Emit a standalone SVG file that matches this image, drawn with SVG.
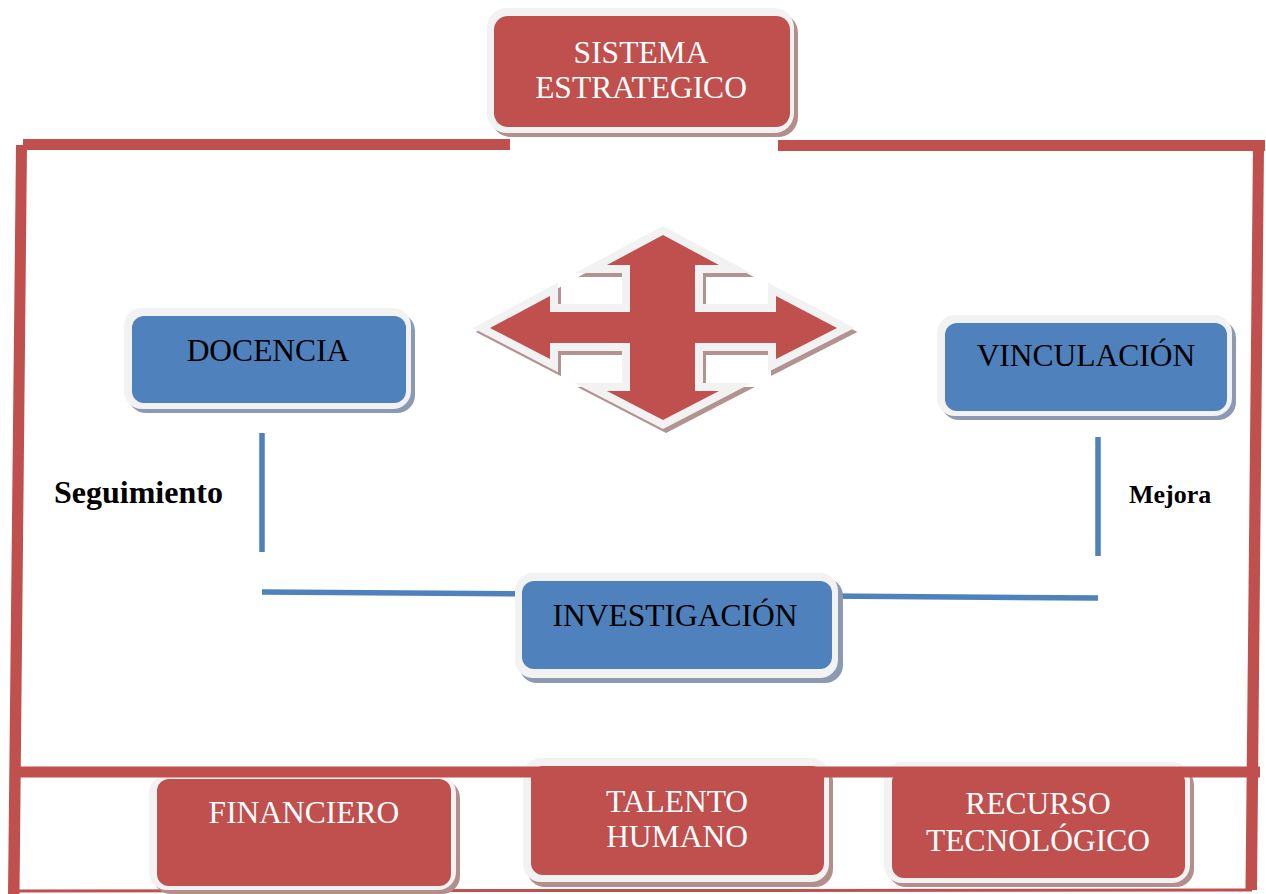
<svg xmlns="http://www.w3.org/2000/svg" width="1266" height="894" viewBox="0 0 1266 894">
<style>
.txt{font-family:"Liberation Serif","Times New Roman",serif;font-size:31.5px;text-anchor:middle}
.w{fill:#ffffff}
.k{fill:#000000}
.lab{font-family:"Liberation Serif","Times New Roman",serif;font-weight:bold;fill:#000000}
.red{fill:#c0504d}
.blue{fill:#4f81bd}
.lite{fill:#f2f2f2}
.rsh{fill:#b28e8c}
.bsh{fill:#8b9ab2}
.frame{fill:#c0504d}
.conn{stroke:#4f81bd;stroke-width:5.5;fill:none}
</style>
<rect width="1266" height="894" fill="#ffffff"/>

<!-- frame (background lines) -->
<g id="frame-bottom">
<line x1="11" y1="891" x2="1252" y2="890" stroke="#c0504d" stroke-width="3"/>
</g>

<!-- connectors -->
<g id="connectors">
<line class="conn" x1="262" y1="433" x2="262" y2="552"/>
<line class="conn" x1="1098" y1="437" x2="1098" y2="556"/>
<line class="conn" x1="262" y1="592" x2="1098" y2="598"/>
</g>

<!-- central arrow -->
<g id="arrow">
<polygon transform="translate(3,4)" fill="#b39391" stroke="#b39391" stroke-width="16" stroke-linejoin="miter" stroke-miterlimit="6" points="663,235 719,265 695,265 695,312 776,312 776,296 837,328 776,359 776,343 695,343 695,391 719,391 663,420 607,391 630,391 630,343 550,343 550,359 490,328 550,296 550,312 630,312 630,265 607,265"/>
<polygon fill="#c0504d" stroke="#f2f2f2" stroke-width="16" stroke-linejoin="miter" stroke-miterlimit="6" paint-order="stroke" points="663,235 719,265 695,265 695,312 776,312 776,296 837,328 776,359 776,343 695,343 695,391 719,391 663,420 607,391 630,391 630,343 550,343 550,359 490,328 550,296 550,312 630,312 630,265 607,265"/>
</g>

<g id="sistema">
<rect class="rsh" x="491" y="13" width="307" height="124" rx="20"/>
<rect class="lite" x="487" y="8" width="307" height="125" rx="20"/>
<rect class="red" x="494" y="16" width="296" height="111" rx="14"/>
<text class="txt w" x="641" y="63">SISTEMA</text>
<text class="txt w" x="641" y="98">ESTRATEGICO</text>
</g>

<g id="docencia">
<rect class="bsh" x="128" y="313" width="287" height="100" rx="18"/>
<rect class="lite" x="124" y="308" width="287" height="101" rx="18"/>
<rect class="blue" x="132" y="316" width="274" height="87" rx="12"/>
<text class="txt k" x="268" y="361">DOCENCIA</text>
</g>

<g id="vinculacion">
<rect class="bsh" x="941" y="320" width="295" height="100" rx="18"/>
<rect class="lite" x="937" y="315" width="295" height="101" rx="18"/>
<rect class="blue" x="945" y="323" width="282" height="88" rx="12"/>
<text class="txt k" x="1086" y="366">VINCULACIÓN</text>
</g>

<g id="investigacion">
<rect class="bsh" x="519" y="578" width="324" height="105" rx="18"/>
<rect class="lite" x="515" y="573" width="323" height="105" rx="18"/>
<rect class="blue" x="522" y="581" width="310" height="88" rx="12"/>
<text class="txt k" x="675" y="626">INVESTIGACIÓN</text>
</g>

<g id="label-seguimiento">
<text class="lab" x="54" y="503" font-size="32">Seguimiento</text>
</g>
<g id="label-mejora">
<text class="lab" x="1129" y="503" font-size="26">Mejora</text>
</g>

<g id="financiero">
<rect class="rsh" x="153" y="780" width="307" height="114" rx="18"/>
<rect class="lite" x="149" y="775" width="307" height="115" rx="18"/>
<rect class="red" x="157" y="779" width="294" height="107" rx="12"/>
<text class="txt w" x="304" y="823">FINANCIERO</text>
</g>

<g id="talento">
<rect class="rsh" x="527" y="763" width="306" height="124" rx="18"/>
<rect class="lite" x="523" y="758" width="306" height="124" rx="18"/>
<rect class="red" x="531" y="766" width="293" height="109" rx="12"/>
<text class="txt w" x="677" y="812">TALENTO</text>
<text class="txt w" x="677" y="847">HUMANO</text>
</g>

<g id="recurso">
<rect class="rsh" x="888" y="767" width="306" height="120" rx="18"/>
<rect class="lite" x="884" y="762" width="306" height="121" rx="18"/>
<rect class="red" x="892" y="770" width="293" height="108" rx="12"/>
<text class="txt w" x="1038" y="814">RECURSO</text>
<text class="txt w" x="1038" y="851">TECNOLÓGICO</text>
</g>

<!-- frame (foreground lines) -->
<g id="frame">
<rect class="frame" x="23" y="139" width="487" height="11"/>
<rect class="frame" x="778" y="140" width="487" height="11"/>
<polygon class="frame" points="16,145 27,145 19.5,894 8,894"/>
<polygon class="frame" points="1253,146 1264,146 1257,890 1245.5,890"/>
<rect class="frame" x="12" y="766.5" width="1248" height="11"/>
</g>
</svg>
